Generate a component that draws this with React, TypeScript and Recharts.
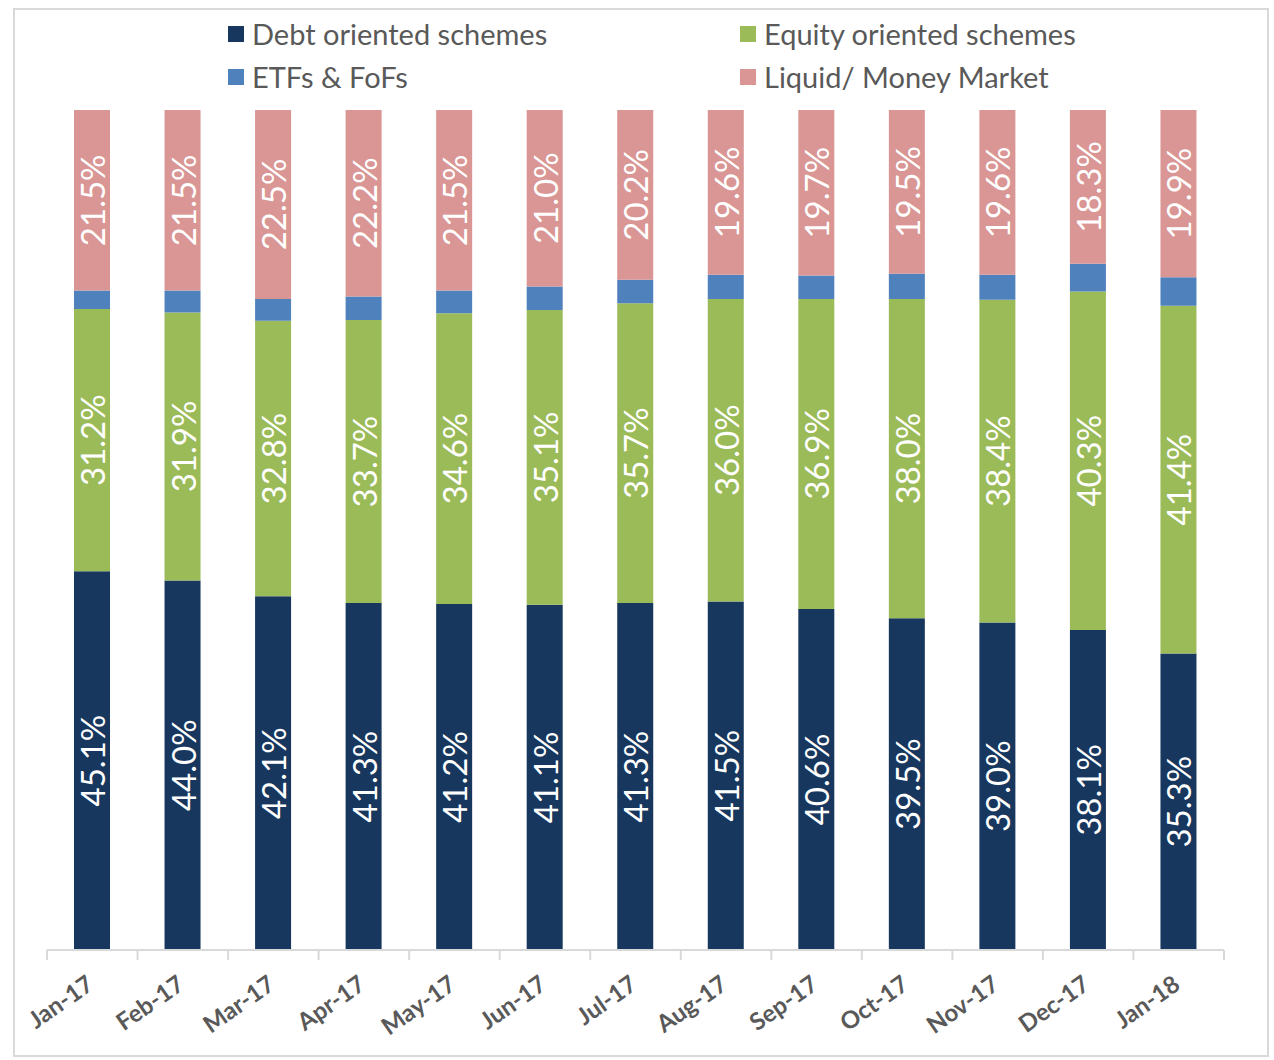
import { BarChart, Bar, XAxis, YAxis, LabelList } from 'recharts';

const months = ['Jan-17', 'Feb-17', 'Mar-17', 'Apr-17', 'May-17', 'Jun-17', 'Jul-17', 'Aug-17', 'Sep-17', 'Oct-17', 'Nov-17', 'Dec-17', 'Jan-18'];
const debt = [45.1, 44.0, 42.1, 41.3, 41.2, 41.1, 41.3, 41.5, 40.6, 39.5, 39.0, 38.1, 35.3];
const equity = [31.2, 31.9, 32.8, 33.7, 34.6, 35.1, 35.7, 36.0, 36.9, 38.0, 38.4, 40.3, 41.4];
const etfs = [2.2, 2.6, 2.6, 2.8, 2.7, 2.8, 2.8, 2.9, 2.8, 3.0, 3.0, 3.3, 3.4];
const liquid = [21.5, 21.5, 22.5, 22.2, 21.5, 21.0, 20.2, 19.6, 19.7, 19.5, 19.6, 18.3, 19.9];

const data = months.map((m, i) => ({
  month: m,
  debt: debt[i],
  equity: equity[i],
  etfs: etfs[i],
  liquid: liquid[i],
}));

const series = [
  { key: 'debt', name: 'Debt oriented schemes', color: '#17375E', label: true },
  { key: 'equity', name: 'Equity oriented schemes', color: '#9BBB59', label: true },
  { key: 'etfs', name: 'ETFs & FoFs', color: '#4F81BD', label: false },
  { key: 'liquid', name: 'Liquid/ Money Market', color: '#D99694', label: true },
];

const W = 1274;
const H = 1060;
const margin = { top: 110, right: 50, bottom: 10, left: 47 };
const band = (W - margin.left - margin.right) / months.length;

const font = 'Lato, "Noto Sans", sans-serif';

function BarLabel(props: any) {
  const { x, y, width, height, value } = props;
  const cx = x + width / 2;
  const cy = y + height / 2;
  return (
    <text
      x={cx}
      y={cy}
      transform={`rotate(-90, ${cx}, ${cy})`}
      textAnchor="middle"
      dominantBaseline="central"
      fill="#fff"
      fontSize={33}
      fontFamily={font}
    >
      {Number(value).toFixed(1)}%
    </text>
  );
}

function MonthTick(props: any) {
  const { x, y, payload, index } = props;
  const last = index === months.length - 1;
  const tx = x + 3;
  const ty = y + 30;
  return (
    <g>
      <line x1={x - band / 2} y1={y - 8} x2={x - band / 2} y2={y + 2} stroke="#d9d9d9" strokeWidth={2} />
      {last && (
        <line x1={x + band / 2} y1={y - 8} x2={x + band / 2} y2={y + 2} stroke="#d9d9d9" strokeWidth={2} />
      )}
      <text
        x={tx}
        y={ty}
        transform={`rotate(-35, ${tx}, ${ty})`}
        textAnchor="end"
        fill="#595959"
        fontSize={24}
        fontWeight="bold"
        fontFamily={font}
      >
        {payload.value}
      </text>
    </g>
  );
}

function LegendBox() {
  const cols = [228, 740];
  return (
    <>
      {series.map((s, i) => (
        <div
          key={s.key}
          style={{
            position: 'absolute',
            left: cols[i % 2],
            top: i < 2 ? 17 : 60,
            display: 'flex',
            alignItems: 'center',
            fontFamily: font,
            fontSize: 29,
            color: '#595959',
            lineHeight: '34px',
            whiteSpace: 'nowrap',
          }}
        >
          <span style={{ width: 16, height: 16, background: s.color, display: 'inline-block', marginRight: 8 }} />
          {s.name}
        </div>
      ))}
    </>
  );
}

export default function App() {
  return (
    <div style={{ position: 'absolute', left: 0, top: 0, width: W, height: H, background: '#fff' }}>
      <div
        style={{
          position: 'absolute',
          left: 13,
          top: 8,
          width: 1256,
          height: 1049,
          border: '2px solid #d9d9d9',
          boxSizing: 'border-box',
        }}
      />
      <div style={{ position: 'absolute', left: 0, top: 0 }}>
        <BarChart width={W} height={H} data={data} margin={margin} barSize={36}>
          <XAxis
            dataKey="month"
            axisLine={{ stroke: '#d9d9d9', strokeWidth: 2 }}
            tickLine={false}
            tick={<MonthTick />}
            interval={0}
            height={100}
          />
          <YAxis hide domain={[0, 100]} />
          {series.map((s) => (
            <Bar key={s.key} dataKey={s.key} name={s.name} stackId="a" fill={s.color} isAnimationActive={false}>
              {s.label && <LabelList dataKey={s.key} content={<BarLabel />} />}
            </Bar>
          ))}
        </BarChart>
      </div>
      <LegendBox />
    </div>
  );
}
